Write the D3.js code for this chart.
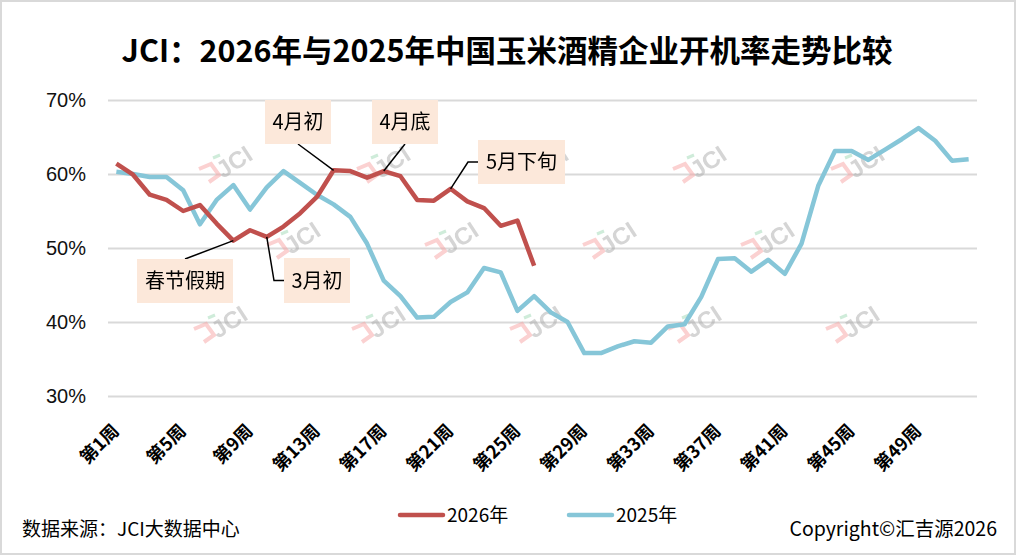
<!DOCTYPE html>
<html>
<head>
<meta charset="utf-8">
<title>JCI 玉米酒精企业开机率</title>
<script src="https://cdn.jsdelivr.net/npm/d3@7"></script>
<style>
  body { margin: 0; background: #fff; }
  svg { display: block; }
  text { font-family: "Noto Sans CJK SC", "Noto Sans", sans-serif; }
</style>
</head>
<body>
<svg width="1016" height="555"></svg>
<script>
// data
var weeks = d3.range(1, 53).map(function (i) { return '第' + i + '周' })
var tickWeeks = [1, 5, 9, 13, 17, 21, 25, 29, 33, 37, 41, 45, 49]
var yTicks = [30, 40, 50, 60, 70]
var rate2026 = [61.4, 59.9, 57.2, 56.5, 55.0, 55.8, 53.3, 51.0, 52.4, 51.5,
                52.9, 54.7, 56.9, 60.5, 60.4, 59.5, 60.4, 59.7, 56.5, 56.4,
                58.0, 56.3, 55.4, 53.0, 53.7, 47.6]
var rate2025 = [60.3, 60.0, 59.6, 59.6, 57.8, 53.2, 56.5, 58.5, 55.2, 58.2,
                60.4, 58.8, 57.2, 55.9, 54.2, 50.6, 45.6, 43.5, 40.6, 40.7,
                42.7, 44.0, 47.3, 46.7, 41.5, 43.5, 41.3, 40.0, 35.8, 35.8,
                36.7, 37.4, 37.2, 39.4, 39.7, 43.4, 48.5, 48.6, 46.8, 48.4,
                46.5, 50.6, 58.4, 63.1, 63.1, 61.9, 63.3, 64.7, 66.2, 64.5,
                61.8, 62.0]
var seriesNames = ['2026年', '2025年']
var noteTexts = ['春节假期', '3月初', '4月初', '4月底', '5月下旬']
var noteWeeks = [8, 10, 14, 17, 21]

// layout for the callout boxes (left, top, width, height, leader type)
var noteBoxes = [
  { x: 137, y: 259, w: 96, h: 44, lead: 'top' },
  { x: 284, y: 258, w: 66, h: 45, lead: 'left' },
  { x: 265, y: 100, w: 66, h: 44, lead: 'bottom' },
  { x: 372, y: 100, w: 66, h: 44, lead: 'bottom' },
  { x: 478, y: 140, w: 87, h: 44, lead: 'left' }
]
var colors = ['#c0504d', '#86c6d8']

var svg = d3.select('svg')
var W = 1016, H = 555

svg.append('rect').attr('x', 1).attr('y', 1).attr('width', W - 2).attr('height', H - 2)
  .attr('fill', '#fff').attr('stroke', '#d9d9d9').attr('stroke-width', 2)

var x = d3.scaleBand().domain(weeks).range([108, 977])
var xc = function (i) { return x(weeks[i]) + x.bandwidth() / 2 }
var y = d3.scaleLinear().domain([30, 70]).range([396, 100])

// title
svg.append('text').attr('x', 507).attr('y', 62).attr('text-anchor', 'middle')
  .attr('font-size', 30.5).attr('font-weight', 'bold').attr('fill', '#000')
  .text('JCI：2026年与2025年中国玉米酒精企业开机率走势比较')

// grid + y axis
var yAxis = d3.axisLeft(y).tickValues(yTicks).tickSize(-(977 - 108))
  .tickFormat(function (d) { return d + '%' })
var gy = svg.append('g').attr('transform', 'translate(108,0)').call(yAxis)
gy.select('.domain').remove()
gy.selectAll('.tick line').attr('stroke', '#d9d9d9').attr('stroke-width', 2)
gy.selectAll('.tick text').attr('x', -22).attr('font-size', 20).attr('fill', '#111')
  .style('font-family', '"Liberation Sans", Arial, sans-serif')

// x axis labels, slanted 45 degrees
var xAxis = d3.axisBottom(x).tickSize(0)
  .tickValues(tickWeeks.map(function (w) { return weeks[w - 1] }))
var gx = svg.append('g').attr('transform', 'translate(0,396)').call(xAxis)
gx.select('.domain').remove()
gx.selectAll('.tick text')
  .attr('x', 0).attr('y', 0).attr('dy', 0)
  .attr('text-anchor', 'end').attr('font-size', 18).attr('font-weight', 'bold').attr('fill', '#000')
  .attr('transform', 'translate(4,36) rotate(-45)')

// watermarks
var marks = svg.append('g').attr('opacity', 0.5)
;[[167, 225, 5], [243, 293, 4], [327, 220, 5]].forEach(function (r) {
  for (var k = 0; k < r[2]; k++) {
    var g = marks.append('g').attr('transform', 'translate(' + (r[1] + k * 158) + ',' + r[0] + ')')
    g.append('path').attr('d', 'M-26,2 L-14,-3 L-6,8 L-16,15')
      .attr('fill', 'none').attr('stroke', '#f7a3a3').attr('stroke-width', 4)
    g.append('path').attr('d', 'M-12,-9 L-5,-12').attr('stroke', '#9fd8b4').attr('stroke-width', 3)
    g.append('text').attr('transform', 'translate(-2,12) rotate(-33)')
      .attr('font-size', 24).attr('fill', '#aaa').attr('font-weight', 'bold')
      .style('font-family', '"Liberation Sans", Arial, sans-serif')
      .text('JCI')
  }
})

// lines
var line = d3.line().x(function (d, i) { return xc(i) }).y(function (d) { return y(d) })
svg.append('path').datum(rate2025).attr('d', line).attr('fill', 'none')
  .attr('stroke', colors[1]).attr('stroke-width', 4.5).attr('stroke-linejoin', 'round')
svg.append('path').datum(rate2026).attr('d', line).attr('fill', 'none')
  .attr('stroke', colors[0]).attr('stroke-width', 4.5).attr('stroke-linejoin', 'round')

// callouts
noteTexts.forEach(function (t, i) {
  var b = noteBoxes[i]
  var px = xc(noteWeeks[i] - 1), py = y(rate2026[noteWeeks[i] - 1])
  var pts
  if (b.lead === 'top') pts = [[b.x + b.w / 2, b.y], [px, py]]
  else if (b.lead === 'bottom') pts = [[b.x + b.w / 2, b.y + b.h], [px, py]]
  else pts = [[b.x, b.y + b.h / 2], [b.x - 10, b.y + b.h / 2], [px, py]]
  svg.append('path').attr('d', d3.line()(pts)).attr('fill', 'none')
    .attr('stroke', '#000').attr('stroke-width', 1.5)
  svg.append('rect').attr('x', b.x).attr('y', b.y).attr('width', b.w).attr('height', b.h)
    .attr('fill', '#fce8da')
  svg.append('text').attr('x', b.x + b.w / 2).attr('y', b.y + b.h / 2 + 7)
    .attr('text-anchor', 'middle').attr('font-size', 20).attr('fill', '#000').text(t)
})

// legend
var lg = svg.append('g').attr('transform', 'translate(400,515)')
seriesNames.forEach(function (n, i) {
  var g = lg.append('g').attr('transform', 'translate(' + (i * 169) + ',0)')
  g.append('line').attr('x1', 0).attr('x2', 43).attr('stroke', colors[i])
    .attr('stroke-width', 4.5).attr('stroke-linecap', 'round')
  g.append('text').attr('x', 47).attr('y', 7).attr('font-size', 19).attr('fill', '#000').text(n)
})

// footer
svg.append('text').attr('x', 22).attr('y', 536).attr('font-size', 19).attr('fill', '#000')
  .text('数据来源：JCI大数据中心')
svg.append('text').attr('x', 997).attr('y', 536).attr('text-anchor', 'end')
  .attr('font-size', 19.5).attr('fill', '#000').text('Copyright©汇吉源2026')
</script>
</body>
</html>
